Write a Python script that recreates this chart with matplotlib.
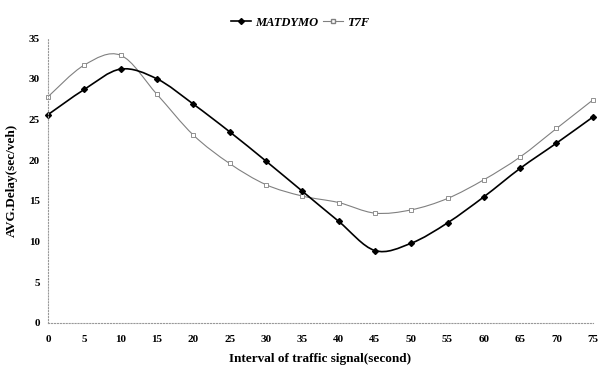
import numpy as np
import matplotlib.pyplot as plt
from matplotlib.path import Path
from matplotlib.patches import PathPatch
from matplotlib.lines import Line2D

plt.rcParams['font.family'] = ['Liberation Serif', 'DejaVu Serif']

interval = [0, 5, 10, 15, 20, 25, 30, 35, 40, 45, 50, 55, 60, 65, 70, 75]
matdymo = [25.6, 28.7, 31.2, 30.0, 26.9, 23.5, 19.9, 16.2, 12.5, 8.9, 9.8, 12.3, 15.5, 19.0, 22.1, 25.3]
t7f = [27.8, 31.7, 32.9, 28.1, 23.1, 19.6, 17.0, 15.6, 14.8, 13.5, 13.9, 15.3, 17.6, 20.4, 23.9, 27.4]
yticks = [0, 5, 10, 15, 20, 25, 30, 35]


def smooth_path(x, y):
    # Catmull-Rom style bezier, like a spreadsheet "smoothed line"
    x = np.asarray(x, float)
    y = np.asarray(y, float)
    verts = [(x[0], y[0])]
    codes = [Path.MOVETO]
    n = len(x)
    for i in range(n - 1):
        i0 = max(i - 1, 0)
        i3 = min(i + 2, n - 1)
        c1 = (x[i] + (x[i + 1] - x[i0]) / 6, y[i] + (y[i + 1] - y[i0]) / 6)
        c2 = (x[i + 1] - (x[i3] - x[i]) / 6, y[i + 1] - (y[i3] - y[i]) / 6)
        verts += [c1, c2, (x[i + 1], y[i + 1])]
        codes += [Path.CURVE4] * 3
    return Path(verts, codes)


fig = plt.figure(figsize=(6, 3.67), dpi=100)
ax = fig.add_axes([0.08, 0.12, 0.908, 0.776])

ax.add_patch(PathPatch(smooth_path(interval, t7f), fill=False, edgecolor='#808080', lw=0.8))
ax.add_patch(PathPatch(smooth_path(interval, matdymo), fill=False, edgecolor='black', lw=1.2))
ax.plot(interval, t7f, ls='none', marker='s', ms=3.2, mfc='white', mec='#808080', mew=0.6, clip_on=False)
ax.plot(interval, matdymo, ls='none', marker='D', ms=3, color='black', clip_on=False)

ax.set_xlim(0, 75)
ax.set_ylim(0, 35)
ax.set_xticks(interval)
ax.set_yticks(yticks)
ax.tick_params(length=0, labelsize=8)
ax.tick_params(axis='x', pad=9)
ax.tick_params(axis='y', pad=6)
for lab in ax.get_xticklabels() + ax.get_yticklabels():
    lab.set_fontweight('bold')

for s in ['top', 'right']:
    ax.spines[s].set_visible(False)
for s in ['left', 'bottom']:
    ax.spines[s].set_linestyle(':')
    ax.spines[s].set_color('#999999')
    ax.spines[s].set_linewidth(0.8)

ax.set_xlabel('Interval of traffic signal(second)', fontsize=9.5, fontweight='bold', labelpad=6)
ax.set_ylabel('AVG.Delay(sec/veh)', fontsize=9.5, fontweight='bold', labelpad=8)

handles = [
    Line2D([], [], color='black', lw=1.2, marker='D', ms=3),
    Line2D([], [], color='#808080', lw=0.8, marker='s', ms=3.2, mfc='white', mec='#808080'),
]
fig.legend(handles, ['MATDYMO', 'T7F'], loc='upper center', bbox_to_anchor=(0.5, 0.985), ncol=2,
           frameon=False, handlelength=1.6, handletextpad=0.3, columnspacing=0.4,
           prop={'weight': 'bold', 'style': 'italic', 'size': 9})

fig.savefig('out.png', dpi=100)
